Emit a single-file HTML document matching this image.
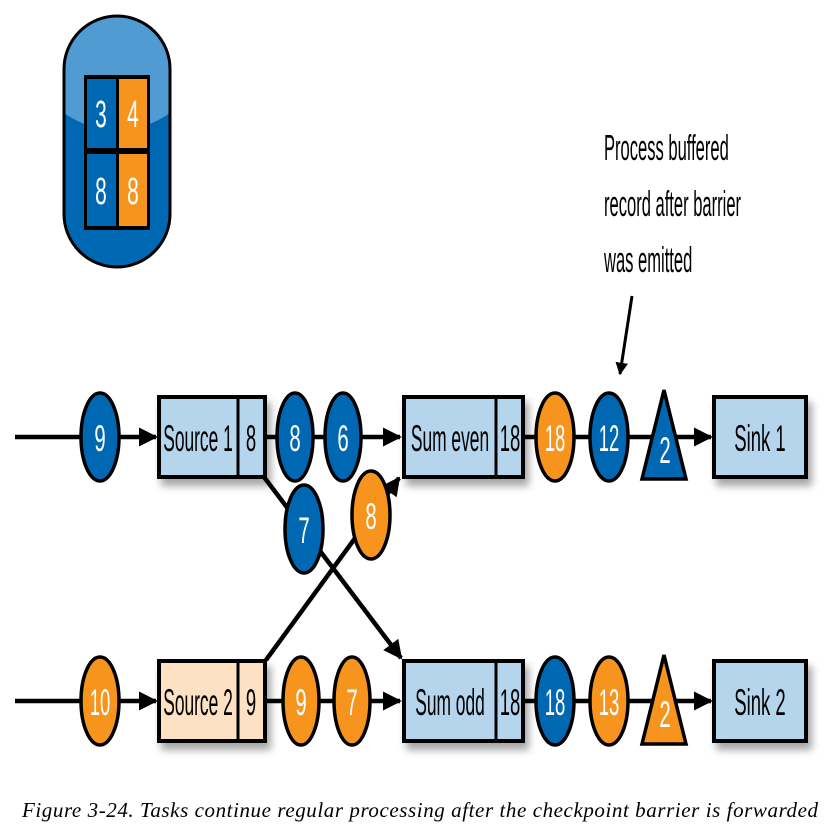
<!DOCTYPE html>
<html><head><meta charset="utf-8"><style>
html,body{margin:0;padding:0;background:#fff;width:840px;height:840px;overflow:hidden}
svg{display:block}
.t{font-family:"Liberation Sans",sans-serif}
</style></head><body>
<svg width="840" height="840" viewBox="0 0 840 840">
<defs>
<marker id="ah" viewBox="0 0 10 10" refX="9" refY="5" markerWidth="4.2" markerHeight="4.2" orient="auto"><path d="M0,0L10,5L0,10z" fill="#000"/></marker>
<filter id="sh" x="-20%" y="-20%" width="150%" height="160%"><feDropShadow dx="4" dy="7" stdDeviation="4" flood-color="#000" flood-opacity="0.35"/></filter>
<clipPath id="pc"><rect x="64" y="16" width="106" height="251" rx="53"/></clipPath>
</defs>

<g>
<rect x="64" y="16" width="106" height="251" rx="53" fill="#0068b2"/>
<ellipse cx="117" cy="30" rx="95" ry="100" fill="#4f9bd2" clip-path="url(#pc)"/>
<rect x="64" y="16" width="106" height="251" rx="53" fill="none" stroke="#000" stroke-width="3"/>
<rect x="84" y="75" width="66" height="155" fill="#000"/>
<rect x="87" y="79" width="29" height="69" fill="#0068b2"/>
<rect x="119" y="79" width="28" height="69" fill="#f7941d"/>
<rect x="87" y="154" width="29" height="72" fill="#0068b2"/>
<rect x="119" y="154" width="28" height="72" fill="#f7941d"/>
<g class="t" fill="#fff" font-size="38" text-anchor="middle">
<text transform="translate(101,127) scale(0.55,1)">3</text><text transform="translate(133,127) scale(0.55,1)">4</text>
<text transform="translate(101,204) scale(0.55,1)">8</text><text transform="translate(133,204) scale(0.55,1)">8</text>
</g>
</g>

<g class="t" font-size="36" fill="#000">
<text transform="translate(604,160) scale(0.46,1)">Process buffered</text>
<text transform="translate(604,216) scale(0.46,1)">record after barrier</text>
<text transform="translate(604,272) scale(0.46,1)">was emitted</text>
</g>
<line x1="632" y1="296" x2="620" y2="374" stroke="#000" stroke-width="3" marker-end="url(#ah)"/>

<g stroke="#000" stroke-width="4.5" fill="none">
<line x1="15" y1="437" x2="156" y2="437" marker-end="url(#ah)"/>
<line x1="265" y1="437" x2="400" y2="437" marker-end="url(#ah)"/>
<line x1="523" y1="437" x2="711" y2="437" marker-end="url(#ah)"/>
<line x1="15" y1="701" x2="156" y2="701" marker-end="url(#ah)"/>
<line x1="265" y1="701" x2="400" y2="701" marker-end="url(#ah)"/>
<line x1="523" y1="701" x2="711" y2="701" marker-end="url(#ah)"/>
<line x1="264" y1="477" x2="401" y2="658" marker-end="url(#ah)"/>
<line x1="266" y1="660" x2="399" y2="478" marker-end="url(#ah)"/>
</g>

<g stroke="#000" stroke-width="4" filter="url(#sh)">
<rect x="159" y="397" width="106" height="80" fill="#b4d5ec"/>
<rect x="159" y="661" width="106" height="80" fill="#fde1c2"/>
<rect x="404" y="397" width="119" height="80" fill="#b4d5ec"/>
<rect x="404" y="661" width="119" height="80" fill="#b4d5ec"/>
<rect x="714" y="397" width="92" height="80" fill="#b4d5ec"/>
<rect x="714" y="661" width="92" height="80" fill="#b4d5ec"/>
</g>
<g stroke="#000" stroke-width="3">
<line x1="238" y1="397" x2="238" y2="477"/><line x1="238" y1="661" x2="238" y2="741"/>
<line x1="496" y1="397" x2="496" y2="477"/><line x1="496" y1="661" x2="496" y2="741"/>
</g>
<g class="t" font-size="37" fill="#000" text-anchor="middle">
<text transform="translate(198,451) scale(0.47,1)">Source 1</text><text transform="translate(251,451) scale(0.5,1)">8</text>
<text transform="translate(198,715) scale(0.47,1)">Source 2</text><text transform="translate(251,715) scale(0.5,1)">9</text>
<text transform="translate(450,451) scale(0.47,1)">Sum even</text><text transform="translate(510,451) scale(0.5,1)">18</text>
<text transform="translate(450,715) scale(0.47,1)">Sum odd</text><text transform="translate(510,715) scale(0.5,1)">18</text>
<text transform="translate(760,451) scale(0.5,1)">Sink 1</text><text transform="translate(760,715) scale(0.5,1)">Sink 2</text>
</g>

<g stroke="#000" stroke-width="3.5">
<ellipse cx="100" cy="437" rx="19" ry="44" fill="#0068b2"/>
<ellipse cx="295" cy="437" rx="18" ry="44" fill="#0068b2"/>
<ellipse cx="343" cy="437" rx="18" ry="44" fill="#0068b2"/>
<ellipse cx="304" cy="529" rx="19" ry="44" fill="#0068b2"/>
<ellipse cx="371" cy="515" rx="19" ry="44" fill="#f7941d"/>
<ellipse cx="555" cy="437" rx="19" ry="44" fill="#f7941d"/>
<ellipse cx="609" cy="437" rx="19" ry="44" fill="#0068b2"/>
<ellipse cx="100" cy="701" rx="19" ry="44" fill="#f7941d"/>
<ellipse cx="301" cy="701" rx="18" ry="44" fill="#f7941d"/>
<ellipse cx="352" cy="701" rx="18" ry="44" fill="#f7941d"/>
<ellipse cx="555" cy="701" rx="19" ry="44" fill="#0068b2"/>
<ellipse cx="609" cy="701" rx="19" ry="44" fill="#f7941d"/>
<polygon points="664,390 642,479 686,479" fill="#0068b2"/>
<polygon points="664,655 642,744 686,744" fill="#f7941d"/>
</g>
<g class="t" font-size="37" fill="#fff" text-anchor="middle">
<text transform="translate(100,451) scale(0.55,1)">9</text><text transform="translate(295,451) scale(0.55,1)">8</text><text transform="translate(343,451) scale(0.55,1)">6</text>
<text transform="translate(304,543) scale(0.55,1)">7</text><text transform="translate(371,529) scale(0.55,1)">8</text>
<text transform="translate(555,451) scale(0.5,1)">18</text><text transform="translate(609,451) scale(0.5,1)">12</text><text transform="translate(665,463) scale(0.55,1)">2</text>
<text transform="translate(100,715) scale(0.5,1)">10</text><text transform="translate(301,715) scale(0.55,1)">9</text><text transform="translate(352,715) scale(0.55,1)">7</text>
<text transform="translate(555,715) scale(0.5,1)">18</text><text transform="translate(609,715) scale(0.5,1)">13</text><text transform="translate(665,727) scale(0.55,1)">2</text>
</g>

<text x="22" y="817" font-family="Liberation Serif,serif" font-style="italic" font-size="21" fill="#000" textLength="796">Figure 3-24. Tasks continue regular processing after the checkpoint barrier is forwarded</text>
</svg>
</body></html>
